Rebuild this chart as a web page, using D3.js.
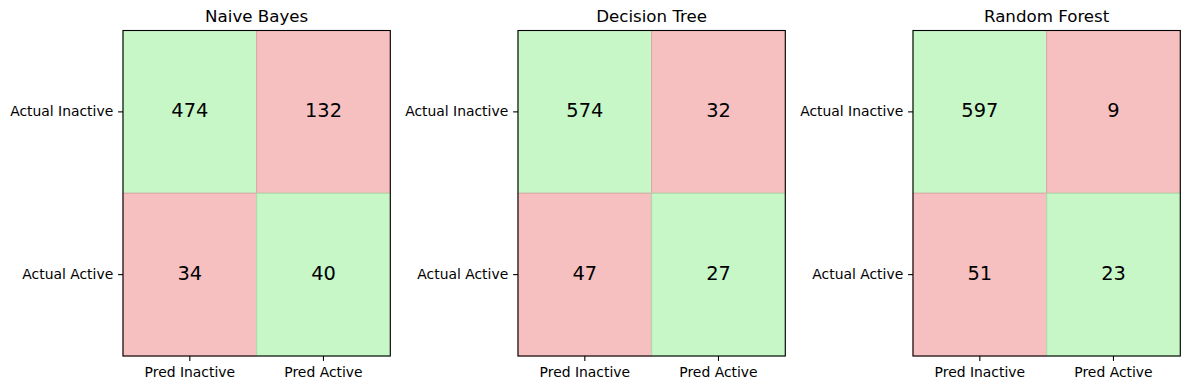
<!DOCTYPE html>
<html><head><meta charset="utf-8">
<script src="https://cdn.jsdelivr.net/npm/d3@7"></script>
<style>body{margin:0;background:#fff}svg{display:block}text{font-family:"DejaVu Sans",sans-serif;fill:#000}</style>
</head><body><svg id="c" width="1189" height="390"></svg>
<script>
const models = ["Naive Bayes", "Decision Tree", "Random Forest"];
const rowLabels = ["Actual Inactive", "Actual Active"];
const colLabels = ["Pred Inactive", "Pred Active"];
const nbValues = [[474, 132], [34, 40]];
const dtValues = [[574, 32], [47, 27]];
const rfValues = [[597, 9], [51, 23]];
const allValues = [nbValues, dtValues, rfValues];

const svg = d3.select("#c");
const panelLeft = [123, 518, 913];
const pw = 267.3, yTop = 30.5, yBottom = 356;

models.forEach((name, k) => {
  const g = svg.append("g").attr("transform", `translate(${panelLeft[k]},0)`);
  const x = d3.scaleBand().domain(colLabels).range([0, pw]);
  const y = d3.scaleBand().domain(rowLabels).range([yTop, yBottom]);
  const cells = [];
  allValues[k].forEach((row, i) => row.forEach((v, j) => cells.push({r: rowLabels[i], c: colLabels[j], v, diag: i === j})));
  g.selectAll("rect.cell").data(cells).join("rect").attr("class", "cell")
    .attr("x", d => x(d.c)).attr("y", d => y(d.r))
    .attr("width", x.bandwidth()).attr("height", y.bandwidth())
    .attr("fill", d => d.diag ? "#c7f6c7" : "#f7c0c0")
    .attr("stroke", d => d.diag ? "#a8dca8" : "#e0a4a4").attr("stroke-width", 1);
  g.selectAll("text.val").data(cells).join("text").attr("class", "val")
    .attr("x", d => x(d.c) + x.bandwidth() / 2)
    .attr("y", d => y(d.r) + y.bandwidth() / 2 + 0.26 * 19.4)
    .attr("text-anchor", "middle").style("font-size", "19.4px")
    .text(d => d.v);
  g.append("rect").attr("x", 0).attr("y", yTop).attr("width", pw).attr("height", yBottom - yTop)
    .attr("fill", "none").attr("stroke", "#000").attr("stroke-width", 1.1);
  const xa = g.append("g").attr("transform", `translate(0,${yBottom})`)
    .call(d3.axisBottom(x).tickSize(4.9).tickPadding(6.5));
  xa.select(".domain").remove();
  xa.selectAll("text").style("font-size", "13.9px").style("font-family", '"DejaVu Sans",sans-serif');
  xa.selectAll("line").attr("stroke-width", 1.1);
  const ya = g.append("g").call(d3.axisLeft(y).tickSize(4.9).tickPadding(4.9));
  ya.select(".domain").remove();
  ya.selectAll("text").style("font-size", "13.9px").style("font-family", '"DejaVu Sans",sans-serif');
  ya.selectAll("line").attr("stroke-width", 1.1);
  g.append("text").attr("x", pw / 2).attr("y", yTop - 8.3).attr("text-anchor", "middle")
    .style("font-size", "16.67px").text(name);
});
</script></body></html>
